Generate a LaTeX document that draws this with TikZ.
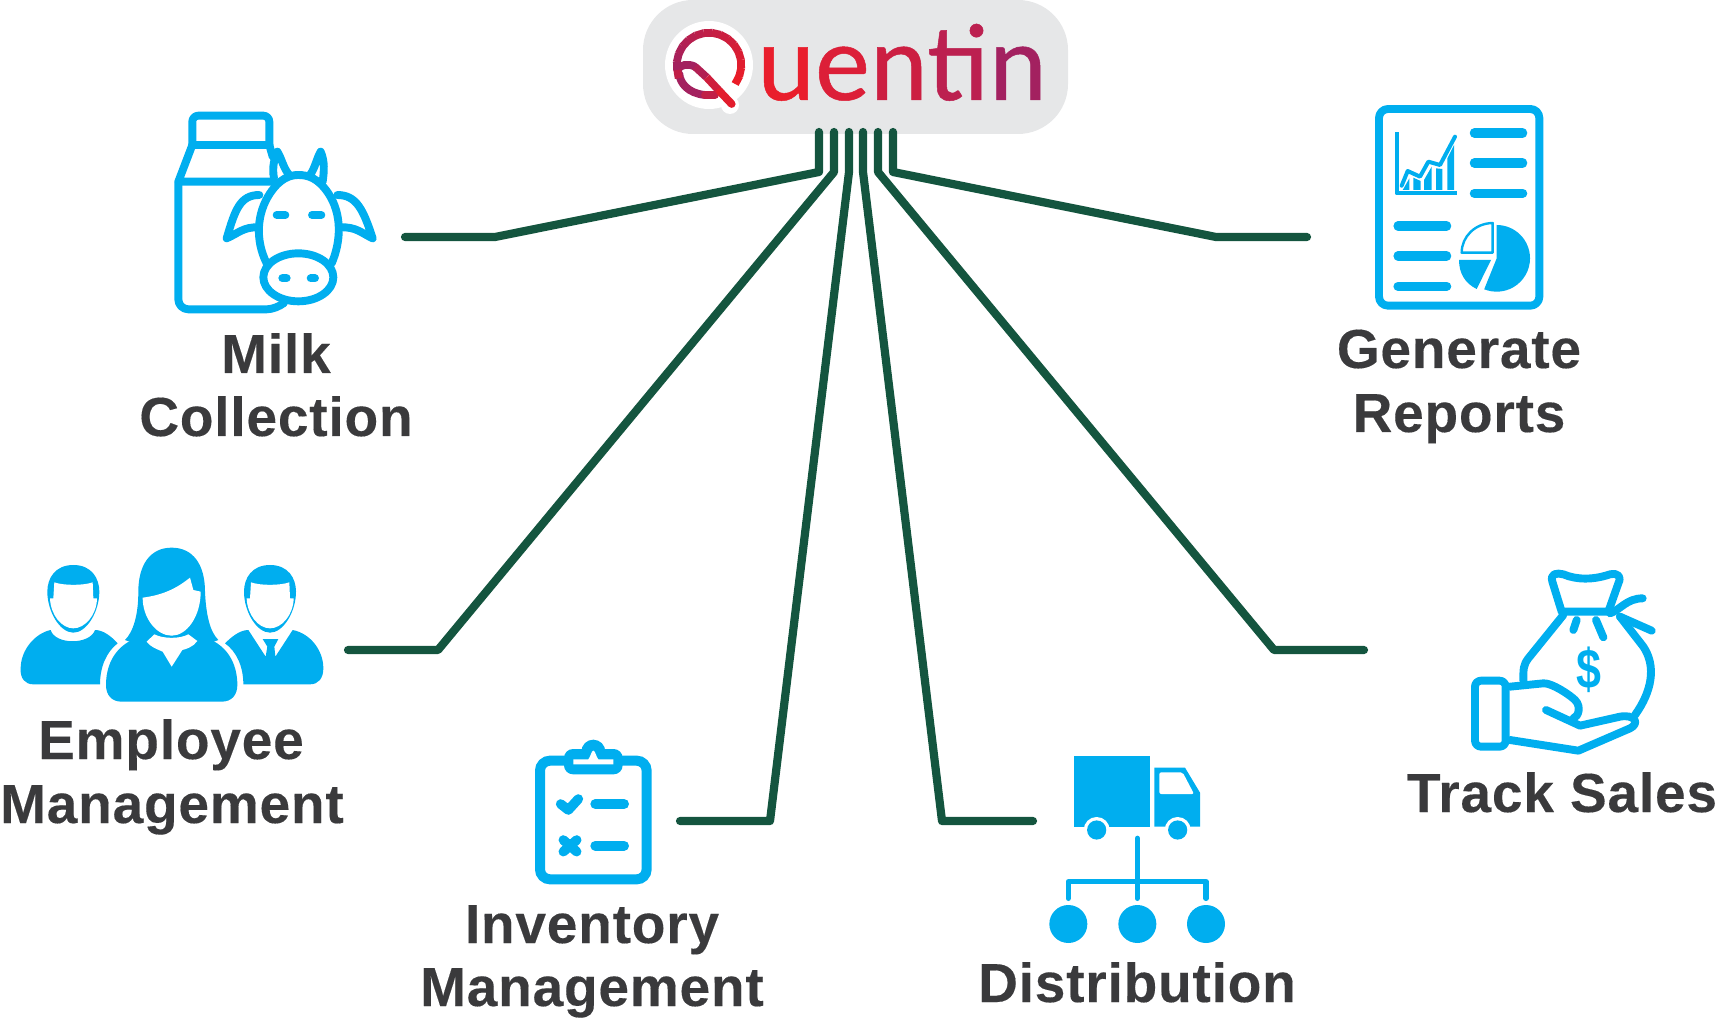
\documentclass[tikz,border=0pt]{standalone}
\usepackage{fontspec}
\setmainfont{Liberation Sans}
\newfontfamily\logofont[FakeBold=0.45]{Carlito}
\newfontfamily\labelfont[LetterSpace=1.5,BoldFeatures={FakeBold=0.25}]{Liberation Sans}
\usetikzlibrary{calc}
\definecolor{cy}{HTML}{00AEEF}
\definecolor{gn}{HTML}{14553F}
\definecolor{tx}{HTML}{3A3A3C}
\definecolor{lg}{HTML}{E6E7E8}
\definecolor{qa}{HTML}{ED1C24}
\definecolor{qb}{HTML}{A3215F}
\tikzset{
 px/.style={x=0.5pt,y=-0.5pt},
 zoomed/.style={x=0.16667pt,y=-0.16667pt},
 conn/.style={draw=gn,line width=4.1pt,line cap=round,line join=round},
 lab/.style={font=\labelfont\fontsize{27.5}{27.5}\selectfont\bfseries,text=tx,inner sep=0pt,anchor=base},
 ic/.style={draw=cy,line width=3.95pt,line cap=round,line join=round},
 thin ic/.style={draw=cy,line width=2pt,line cap=round,line join=round},
 bar ic/.style={draw=cy,line width=4.6pt,line cap=round},
 qstroke/.style={line width=3.9pt},
 logotxt/.style={font=\logofont\fontsize{55}{55}\selectfont,inner sep=0pt,anchor=base west},
}
\begin{document}
\begin{tikzpicture}[px]
\useasboundingbox (0,0) rectangle (1718,1020);
% logo
\node[fill=lg,rounded corners=25pt,minimum width=212.5pt,minimum height=67pt,inner sep=0pt] (logo) at (855.5,67) {};
\fill[white] (709,65) circle[radius=22pt];
\fill[white] (730,105) circle[radius=4.5pt];
\begin{scope}[shift={(620,0)},zoomed]
\foreach \a in {190,175,...,-25}{
 \pgfmathsetmacro{\p}{max(0,min(100,(190-\a)/2.2))}
 \pgfmathsetmacro{\xa}{267+97*cos(\a)}
 \pgfmathsetmacro{\ya}{195-97*sin(\a)}
 \pgfmathsetmacro{\xb}{267+97*cos(\a-16)}
 \pgfmathsetmacro{\yb}{195-97*sin(\a-16)}
 \draw[qstroke,draw=qa!\p!qb] (\xa,\ya) -- (\xb,\yb);
}
\draw[qstroke,draw=qb,line cap=round] (172,210) .. controls (180,193) and (205,190) .. (225,200);
\draw[qstroke,draw=qb,line cap=round] (178,222) .. controls (180,250) and (205,280) .. (255,285);
\draw[qstroke,draw=qb!60!qa] (172,210) -- (176,235);
\draw[qstroke,draw=qa!40!qb,line cap=round] (255,285) -- (285,285);
\draw[qstroke,draw=qb!80!qa] (225,200) -- (260,232);
\draw[qstroke,draw=qa!60!qb] (260,232) -- (300,275);
\draw[qstroke,draw=qa!85!qb,line cap=round] (300,275) -- (335,312);
\end{scope}
\node[logotxt] (logoword) at (757,100) {\textcolor[HTML]{E91E2C}{u}\textcolor[HTML]{DC1F38}{e}\textcolor[HTML]{CC1F42}{n}\textcolor[HTML]{BC2050}{ti}\textcolor[HTML]{A32160}{n}};
% connector coordinates
\foreach \n/\x in {1/819,2/834,3/849,4/863,5/878,6/893}{
 \coordinate (s\n) at (\x,132);
 \coordinate (k\n) at (\x,172);
}
\coordinate (b1) at (495,237); \coordinate (e1) at (405,237);
\coordinate (b2) at (438,650); \coordinate (e2) at (348,650);
\coordinate (b3) at (770,821); \coordinate (e3) at (680,821);
\coordinate (b4) at (942,821); \coordinate (e4) at (1033,821);
\coordinate (b5) at (1274,650); \coordinate (e5) at (1364,650);
\coordinate (b6) at (1216,237); \coordinate (e6) at (1307,237);
\foreach \n in {1,...,6}{ \draw[conn] (s\n) -- (k\n) -- (b\n) -- (e\n); }
% milk
\begin{scope}[shift={(160,100)},zoomed]
\draw[ic,rounded corners=3pt] (97,135) -- (97,47) -- (328,47) -- (328,135);
\draw[ic] (97,135) -- (328,135);
\draw[ic] (97,135) -- (55,245) -- (335,245);
\draw[ic] (328,135) -- (338,170);
\draw[ic,rounded corners=5pt] (55,245) -- (55,628) -- (350,628) -- (368,612);
\fill[white] (345,175) rectangle (352,240);
\draw[ic] (342,235) .. controls (335,200) and (345,170) .. (352,155) .. controls (365,175) and (370,205) .. (388,225);
\draw[ic] (450,225) .. controls (465,205) and (470,175) .. (482,155) .. controls (495,185) and (492,215) .. (488,245);
\draw[ic] (298,285) .. controls (240,285) and (225,330) .. (200,415) .. controls (235,400) and (250,380) .. (297,382);
\draw[ic] (532,285) .. controls (590,285) and (610,330) .. (638,415) .. controls (605,400) and (590,380) .. (540,382);
\draw[ic,fill=white] (320,490) .. controls (285,420) and (290,340) .. (330,280) .. controls (360,235) and (390,225) .. (415,225) .. controls (445,225) and (475,235) .. (505,280) .. controls (545,340) and (545,420) .. (515,490);
\draw[ic,fill=white] (415,532) ellipse[x radius=17.5pt,y radius=12pt];
\draw[ic] (350,345) -- (376,345) (456,345) -- (484,345) (367,535) -- (380,535) (452,535) -- (465,535);
\end{scope}
% reports
\begin{scope}[shift={(1360,95)},zoomed]
\draw[ic,rounded corners=4.5pt] (57,42) -- (538,42) -- (538,632) -- (57,632) -- cycle;
\draw[bar ic] (343,114) -- (488,114) (343,204) -- (488,204) (343,295) -- (488,295) (114,393) -- (260,393) (114,483) -- (260,483) (114,574) -- (260,574);
\draw[thin ic,line cap=butt] (110,112) -- (110,295) -- (292,295);
\draw[thin ic] (125,272) -- (143,228) -- (180,245) -- (205,200) -- (240,210) -- (285,125);
\fill[cy] (128,285) -- (148,250) -- (148,285) -- cycle (160,285) -- (160,248) -- (182,258) -- (182,285) -- cycle (192,285) -- (192,255) -- (215,215) -- (215,285) -- cycle (228,285) -- (228,220) -- (247,222) -- (247,285) -- cycle (262,285) -- (262,190) -- (282,150) -- (282,285) -- cycle;
\fill[cy] (410,390) arc[start angle=90,end angle=-112,radius=16.67pt] -- (410,490) -- cycle;
\fill[cy] (297,495) -- (393,495) -- (350,582) .. controls (315,565) and (297,535) .. (297,495) -- cycle;
\draw[draw=cy,line width=1.2pt,line join=round] (398,384) -- (398,473) -- (305,473) .. controls (305,425) and (345,385) .. (398,384) -- cycle;
\end{scope}
% people
\begin{scope}[shift={(10,535)},zoomed]
\foreach \dx in {0,590}{
 \begin{scope}[xshift=\dx*0.16667pt]
 \fill[cy] (190,90) .. controls (135,90) and (112,130) .. (112,170) .. controls (112,230) and (150,293) .. (190,293) .. controls (230,293) and (268,230) .. (268,170) .. controls (268,130) and (245,90) .. (190,90) -- cycle;
 \fill[white] (133,142) .. controls (160,152) and (220,152) .. (248,142) -- (250,190) -- (261,190) .. controls (260,240) and (225,280) .. (190,280) .. controls (155,280) and (122,240) .. (120,190) -- (130,190) -- cycle;
 \end{scope}
}
\fill[cy] (122,285) .. controls (135,330) and (240,330) .. (255,285) .. controls (280,285) and (305,305) .. (323,325) .. controls (290,350) and (270,395) .. (270,448) -- (70,448) .. controls (45,448) and (30,430) .. (32,400) .. controls (32,345) and (75,295) .. (122,285) -- cycle;
\fill[cy] (645,325) .. controls (665,305) and (690,285) .. (715,285) -- (767,365) -- (772,335) -- (758,312) -- (805,312) -- (793,335) -- (796,365) -- (848,285) .. controls (900,295) and (940,345) .. (940,400) .. controls (940,430) and (925,448) .. (900,448) -- (700,448) .. controls (700,395) and (680,350) .. (645,325) -- cycle;
\fill[cy] (485,38) .. controls (420,38) and (385,90) .. (385,170) .. controls (385,240) and (370,290) .. (345,315) -- (358,320) -- (612,320) -- (625,315) .. controls (600,290) and (588,240) .. (585,170) .. controls (585,90) and (550,38) .. (485,38) -- cycle;
\fill[cy] (360,318) .. controls (310,345) and (288,395) .. (288,450) .. controls (288,480) and (305,500) .. (335,500) -- (635,500) .. controls (665,500) and (682,480) .. (682,450) .. controls (682,395) and (660,345) .. (610,318) -- cycle;
\fill[white] (410,320) -- (433,298) .. controls (460,312) and (510,312) .. (535,298) -- (562,318) .. controls (550,335) and (530,342) .. (517,345) -- (485,395) -- (458,350) .. controls (440,342) and (420,335) .. (410,320) -- cycle;
\fill[white] (398,188) .. controls (460,180) and (500,160) .. (540,128) -- (550,165) -- (572,170) .. controls (572,245) and (530,302) .. (485,302) .. controls (440,302) and (398,250) .. (398,188) -- cycle;
\end{scope}
% clipboard
\begin{scope}[shift={(520,730)},zoomed]
\draw[draw=cy,line width=5pt,rounded corners=5pt] (60,92) -- (380,92) -- (380,448) -- (60,448) -- cycle;
\fill[cy] (220,65) circle[radius=6pt];
\fill[cy,rounded corners=4.5pt] (132,57) rectangle (308,133);
\fill[white] (160,88) -- (205,88) .. controls (212,80) and (214,62) .. (220,62) .. controls (226,62) and (228,80) .. (235,88) -- (280,88) -- (280,103) -- (160,103) -- cycle;
\draw[bar ic,line width=4.8pt,line join=round] (122,222) -- (145,240) -- (175,207);
\draw[bar ic,line width=5pt] (226,222) -- (312,222) (226,347) -- (312,347);
\draw[bar ic,line width=4.8pt] (130,330) -- (170,365) (170,330) -- (130,365);
\end{scope}
% truck
\begin{scope}[shift={(1040,740)},zoomed]
\fill[cy] (103,48) rectangle (330,260);
\fill[cy] (343,83) -- (435,83) -- (480,158) -- (480,260) -- (343,260) -- cycle;
\fill[white,rounded corners=1pt] (358,97) -- (428,97) -- (462,162) -- (358,162) -- cycle;
\foreach \x in {170,413}{
 \fill[white] (\x,270) circle[radius=6.5pt];
}
\fill[white] (90,260) rectangle (500,310);
\foreach \x in {170,413}{ \fill[cy] (\x,270) circle[radius=4.8pt]; }
\draw[draw=cy,line width=2.7pt,line cap=round,line join=round] (292,295) -- (292,475) (85,475) -- (85,425) -- (498,425) -- (498,475);
\foreach \x in {85,292,498}{ \fill[cy] (\x,552) circle[radius=9.5pt]; }
\end{scope}
% money bag
\begin{scope}[shift={(1460,560)},zoomed]
\draw[ic,rounded corners=3pt] (45,362) -- (137,362) -- (137,560) -- (45,560) -- cycle;
\draw[ic] (190,362) .. controls (190,325) and (190,315) .. (205,295) -- (310,165);
\draw[ic] (480,170) -- (550,260) .. controls (590,320) and (575,395) .. (525,465);
\draw[ic] (305,155) -- (277,65) .. controls (270,40) and (290,38) .. (310,43) .. controls (350,60) and (400,60) .. (450,43) .. controls (475,38) and (485,50) .. (475,70) -- (445,155) -- cycle;
\draw[ic] (450,160) .. controls (480,150) and (500,115) .. (548,115);
\draw[ic] (480,170) -- (575,212);
\draw[ic] (350,180) -- (340,210) (408,180) -- (430,232);
\node[font=\fontsize{28}{28}\selectfont\bfseries,text=cy,inner sep=0pt,xscale=0.8] (dollar) at (386,328) {\$};
\draw[ic] (150,380) -- (250,370) .. controls (275,368) and (330,405) .. (345,420) .. controls (365,440) and (355,470) .. (340,475);
\draw[ic] (258,450) -- (360,497) -- (480,470) .. controls (525,462) and (540,490) .. (510,505) -- (355,572) -- (150,540);
\end{scope}
% labels
\node[lab] (milk) at (276,373) {Milk};
\node[lab] (coll) at (276,436) {Collection};
\node[lab] (gen) at (1459,368) {Generate};
\node[lab] (rep) at (1459,432) {Reports};
\node[lab] (emp) at (171,759) {Employee};
\node[lab] (man1) at (172,823) {Management};
\node[lab] (inv) at (592,943) {Inventory};
\node[lab] (man2) at (592,1006) {Management};
\node[lab] (dist) at (1137,1002) {Distribution};
\node[lab] (sales) at (1562,812) {Track Sales};
\end{tikzpicture}
\end{document}
